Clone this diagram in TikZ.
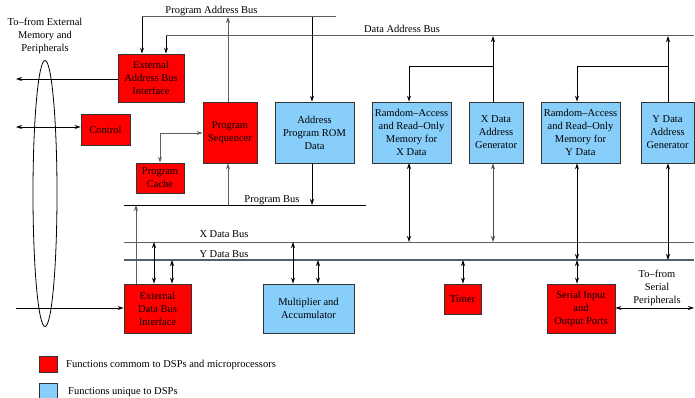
\documentclass[tikz,border=0pt]{standalone}
\usepackage{fontspec}
\setmainfont{Liberation Serif}
\usetikzlibrary{arrows.meta}
\definecolor{dspblue}{RGB}{135,206,250}
\definecolor{dspred}{RGB}{255,0,0}
\definecolor{busgray}{RGB}{95,95,95}
\definecolor{slate}{RGB}{80,96,112}
\begin{document}
\begin{tikzpicture}[x=1pt,y=-1pt,
  every node/.style={font=\fontsize{10.5}{13}\selectfont},
  blk/.style={draw=black!80, line width=0.9pt, inner sep=0pt, align=center},
  comblk/.style={blk, fill=dspred},
  dspblk/.style={blk, fill=dspblue},
  arr/.style={-{Stealth[length=6pt,width=4pt,inset=2pt]}, line width=0.75pt},
  darr/.style={{Stealth[length=6pt,width=4pt,inset=2pt]}-{Stealth[length=6pt,width=4pt,inset=2pt]}, line width=0.75pt},
  busline/.style={line width=1pt},
  lbl/.style={inner sep=0pt, align=center}
]
\useasboundingbox (0,0) rectangle (695,398);

% ---------- blocks ----------
\node[comblk, minimum width=66pt, minimum height=48pt] (eabi) at (151,78) {External\\Address Bus\\Interface};
\node[comblk, minimum width=49pt, minimum height=31pt] (ctrl) at (105.5,129.5) {Control};
\node[comblk, minimum width=54pt, minimum height=61pt] (ps) at (230,132.5) {Program\\Sequencer};
\node[comblk, minimum width=48pt, minimum height=30pt] (cache) at (160,178) {Program\\Cache};
\node[dspblk, minimum width=79pt, minimum height=61pt] (rom) at (314.5,132.5) {Address\\Program ROM\\Data};
\node[dspblk, minimum width=79pt, minimum height=61pt] (ramx) at (411.5,132.5) {Ramdom--Access\\and Read--Only\\Memory for\\X Data};
\node[dspblk, minimum width=54pt, minimum height=61pt] (xdag) at (496,132.5) {X Data\\Address\\Generator};
\node[dspblk, minimum width=79pt, minimum height=61pt] (ramy) at (580.5,132.5) {Ramdom--Access\\and Read--Only\\Memory for\\Y Data};
\node[dspblk, minimum width=53pt, minimum height=61pt] (ydag) at (667.5,132.5) {Y Data\\Address\\Generator};
\node[comblk, minimum width=67pt, minimum height=49pt] (edbi) at (157.5,308.5) {External\\Data Bus\\Interface};
\node[dspblk, minimum width=91pt, minimum height=49pt] (mac) at (308.5,308.5) {Multiplier and\\Accumulator};
\node[comblk, minimum width=37pt, minimum height=30pt] (timer) at (462.5,299) {Timer};
\node[comblk, minimum width=68pt, minimum height=49pt] (sio) at (581,308.5) {Serial Input\\and\\Output Ports};

% ---------- bus coordinates ----------
\coordinate (pabL) at (142,17);  \coordinate (pabR) at (336,17);
\coordinate (pabPS) at (228,17); \coordinate (pabROM) at (312,17);
\coordinate (dabL) at (166,36);  \coordinate (dabR) at (694,36);
\coordinate (dabX) at (493,36);  \coordinate (dabY) at (668,36);
\coordinate (pbL) at (124,205);  \coordinate (pbR) at (366,205);
\coordinate (pbPS) at (228,205); \coordinate (pbROM) at (312,205); \coordinate (pbE) at (136,205);
\coordinate (xbL) at (124,242);  \coordinate (xbR) at (694,242);
\coordinate (ybL) at (124,260);  \coordinate (ybR) at (694,260);

% ---------- buses ----------
\draw[busline, draw=busgray] (pabL) -- (pabR);
\draw[busline, draw=busgray] (dabL) -- (dabR);
\draw[busline, draw=black] (pbL) -- (pbR);
\draw[busline, draw=busgray] (xbL) -- (xbR);
\draw[line width=1.7pt, draw=slate] (ybL) -- (ybR);

\node[lbl, anchor=base] at (211.5,14) {Program Address Bus};
\node[lbl, anchor=base] at (402,33) {Data Address Bus};
\node[lbl, anchor=base] at (272,202) {Program Bus};
\node[lbl, anchor=base] at (224,237) {X Data Bus};
\node[lbl, anchor=base] at (224,257) {Y Data Bus};

% ---------- address side ----------
\draw[arr] (pabL) -- (pabL |- eabi.north);
\draw[arr] (dabL) -- (dabL |- eabi.north);
\draw[arr, draw=busgray] (pabPS |- ps.north) -- (pabPS);
\draw[arr] (pabROM) -- (pabROM |- rom.north);
\coordinate (xlink) at (409,66);
\coordinate (ylink) at (577,66);
\draw[arr] (dabX |- xdag.north) -- (dabX);
\draw[arr] (dabX |- xlink) -- (xlink) -- (xlink |- ramx.north);
\draw[arr] (dabY |- ydag.north) -- (dabY);
\draw[arr] (dabY |- ylink) -- (ylink) -- (ylink |- ramy.north);
\coordinate (cachelink) at (160,133);
\draw[darr, draw=busgray] (ps.west |- cachelink) -- (cachelink) -- (cache.north);

% ---------- program bus links ----------
\draw[arr, draw=busgray] (pbPS) -- (pbPS |- ps.south);
\draw[arr] (pbROM |- rom.south) -- (pbROM);
\draw[arr, draw=slate] (pbE |- edbi.north) -- (pbE);

% ---------- data bus links ----------
\draw[darr] (409,242) -- (409,163);
\draw[darr, draw=black!70] (493,242) -- (xdag.south -| 493,0);
\draw[darr] (577,260) -- (ramy.south -| 577,0);
\draw[darr] (668,260) -- (ydag.south -| 668,0);
\draw[darr] (154,242) -- (edbi.north -| 154,0);
\draw[darr] (172,260) -- (edbi.north -| 172,0);
\draw[darr] (293,242) -- (mac.north -| 293,0);
\draw[darr] (318,260) -- (mac.north -| 318,0);
\draw[darr] (463,260) -- (timer.north -| 463,0);
\draw[darr] (577,260) -- (sio.north -| 577,0);

% ---------- external connections ----------
\draw[line width=0.8pt] (45,193.5) ellipse [x radius=12, y radius=133];
\node[lbl] at (45,36) {To--from External\\Memory and\\Peripherals};
\coordinate (extA) at (16,79);
\coordinate (extC) at (16,127);
\coordinate (extD) at (16,308);
\draw[arr] (eabi.west |- extA) -- (extA);
\draw[darr] (extC) -- (ctrl.west |- extC);
\draw[arr] (extD) -- (edbi.west |- extD);

\coordinate (serR) at (694,308);
\draw[darr] (sio.east |- serR) -- (serR);
\node[lbl] at (657,288) {To--from\\Serial\\Peripherals};

% ---------- legend ----------
\node[comblk, minimum width=18pt, minimum height=16pt] (legR) at (48,364) {};
\node[dspblk, minimum width=18pt, minimum height=16pt] (legB) at (48,391) {};
\node[lbl, anchor=west] at (66,365) {Functions commom to DSPs and microprocessors};
\node[lbl, anchor=west] at (68,392) {Functions unique to DSPs};
\end{tikzpicture}
\end{document}
